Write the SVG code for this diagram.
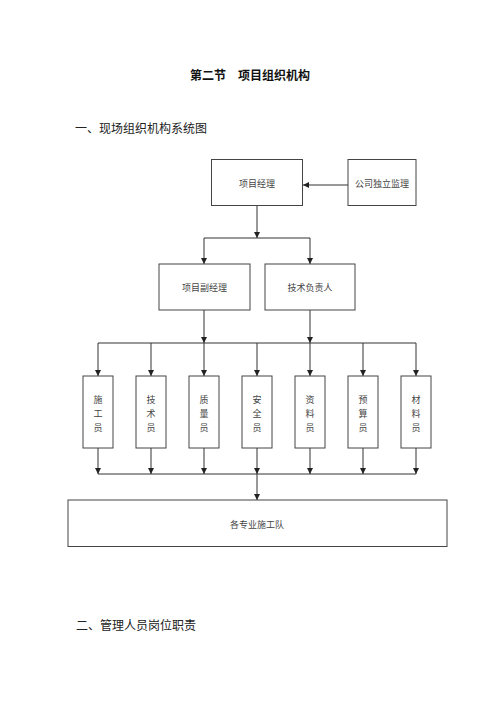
<svg xmlns="http://www.w3.org/2000/svg" width="500" height="707" viewBox="0 0 500 707">
<defs>
<style>
.box{fill:#fff;stroke:#444;stroke-width:1}
.ln{stroke:#333;stroke-width:1;fill:none}
.arr{marker-end:url(#ah)}
.t{font-family:"Noto Sans CJK SC",sans-serif;font-size:9px;fill:#444;text-anchor:middle;dominant-baseline:central}
.h{font-family:"Noto Sans CJK SC",sans-serif;font-size:12px;fill:#222}
</style>
<marker id="ah" markerUnits="userSpaceOnUse" markerWidth="6" markerHeight="6" refX="6" refY="3" orient="auto">
<path d="M0,0 L6,3 L0,6 z" fill="#222"/>
</marker>
</defs>
<rect width="500" height="707" fill="#fff"/>
<text x="250" y="74" class="h" style="font-weight:bold;font-size:12px;text-anchor:middle;dominant-baseline:central;fill:#111">第二节　项目组织机构</text>
<text x="75" y="127" class="h" style="dominant-baseline:central">一、现场组织机构系统图</text>
<text x="76" y="624" class="h" style="dominant-baseline:central">二、管理人员岗位职责</text>

<g id="connectors">
<line class="ln arr" x1="348" y1="185" x2="303" y2="185"/>
<line class="ln arr" x1="257" y1="206" x2="257" y2="238"/>
<line class="ln" x1="204" y1="238" x2="310" y2="238"/>
<line class="ln arr" x1="204" y1="238" x2="204" y2="264"/>
<line class="ln arr" x1="310" y1="238" x2="310" y2="264"/>
<line class="ln arr" x1="204" y1="310" x2="204" y2="343"/>
<line class="ln arr" x1="310" y1="310" x2="310" y2="343"/>
<line class="ln" x1="98" y1="343" x2="416" y2="343"/>
<line class="ln arr" x1="98" y1="343" x2="98" y2="376"/>
<line class="ln arr" x1="151" y1="343" x2="151" y2="376"/>
<line class="ln arr" x1="204" y1="343" x2="204" y2="376"/>
<line class="ln arr" x1="257" y1="343" x2="257" y2="376"/>
<line class="ln arr" x1="310" y1="343" x2="310" y2="376"/>
<line class="ln arr" x1="363" y1="343" x2="363" y2="376"/>
<line class="ln arr" x1="416" y1="343" x2="416" y2="376"/>
<line class="ln arr" x1="98" y1="448" x2="98" y2="474"/>
<line class="ln arr" x1="151" y1="448" x2="151" y2="474"/>
<line class="ln arr" x1="204" y1="448" x2="204" y2="474"/>
<line class="ln arr" x1="257" y1="448" x2="257" y2="474"/>
<line class="ln arr" x1="310" y1="448" x2="310" y2="474"/>
<line class="ln arr" x1="363" y1="448" x2="363" y2="474"/>
<line class="ln arr" x1="416" y1="448" x2="416" y2="474"/>
<line class="ln" x1="98" y1="474" x2="416" y2="474"/>
<line class="ln arr" x1="257" y1="474" x2="257" y2="500"/>
</g>

<g id="pm"><rect class="box" x="211.5" y="159.5" width="91" height="46"/><text class="t" x="257" y="183">项目经理</text></g>
<g id="sup"><rect class="box" x="348" y="159.5" width="68" height="46"/><text class="t" x="382" y="183">公司独立监理</text></g>
<g id="dpm"><rect class="box" x="159" y="264" width="91" height="46"/><text class="t" x="204.5" y="287">项目副经理</text></g>
<g id="tech"><rect class="box" x="265" y="264" width="90" height="46"/><text class="t" x="310" y="287">技术负责人</text></g>

<g id="s1"><rect class="box" x="83" y="376" width="30" height="72"/><text class="t" x="98"><tspan x="98" y="399">施</tspan><tspan x="98" y="413">工</tspan><tspan x="98" y="427">员</tspan></text></g>
<g id="s2"><rect class="box" x="136" y="376" width="30" height="72"/><text class="t" x="151"><tspan x="151" y="399">技</tspan><tspan x="151" y="413">术</tspan><tspan x="151" y="427">员</tspan></text></g>
<g id="s3"><rect class="box" x="189" y="376" width="30" height="72"/><text class="t" x="204"><tspan x="204" y="399">质</tspan><tspan x="204" y="413">量</tspan><tspan x="204" y="427">员</tspan></text></g>
<g id="s4"><rect class="box" x="242" y="376" width="30" height="72"/><text class="t" x="257"><tspan x="257" y="399">安</tspan><tspan x="257" y="413">全</tspan><tspan x="257" y="427">员</tspan></text></g>
<g id="s5"><rect class="box" x="295" y="376" width="30" height="72"/><text class="t" x="310"><tspan x="310" y="399">资</tspan><tspan x="310" y="413">料</tspan><tspan x="310" y="427">员</tspan></text></g>
<g id="s6"><rect class="box" x="348" y="376" width="30" height="72"/><text class="t" x="363"><tspan x="363" y="399">预</tspan><tspan x="363" y="413">算</tspan><tspan x="363" y="427">员</tspan></text></g>
<g id="s7"><rect class="box" x="401" y="376" width="30" height="72"/><text class="t" x="416"><tspan x="416" y="399">材</tspan><tspan x="416" y="413">料</tspan><tspan x="416" y="427">员</tspan></text></g>

<g id="team"><rect class="box" x="68" y="500" width="379" height="46.5"/><text class="t" x="257" y="524">各专业施工队</text></g>
</svg>
